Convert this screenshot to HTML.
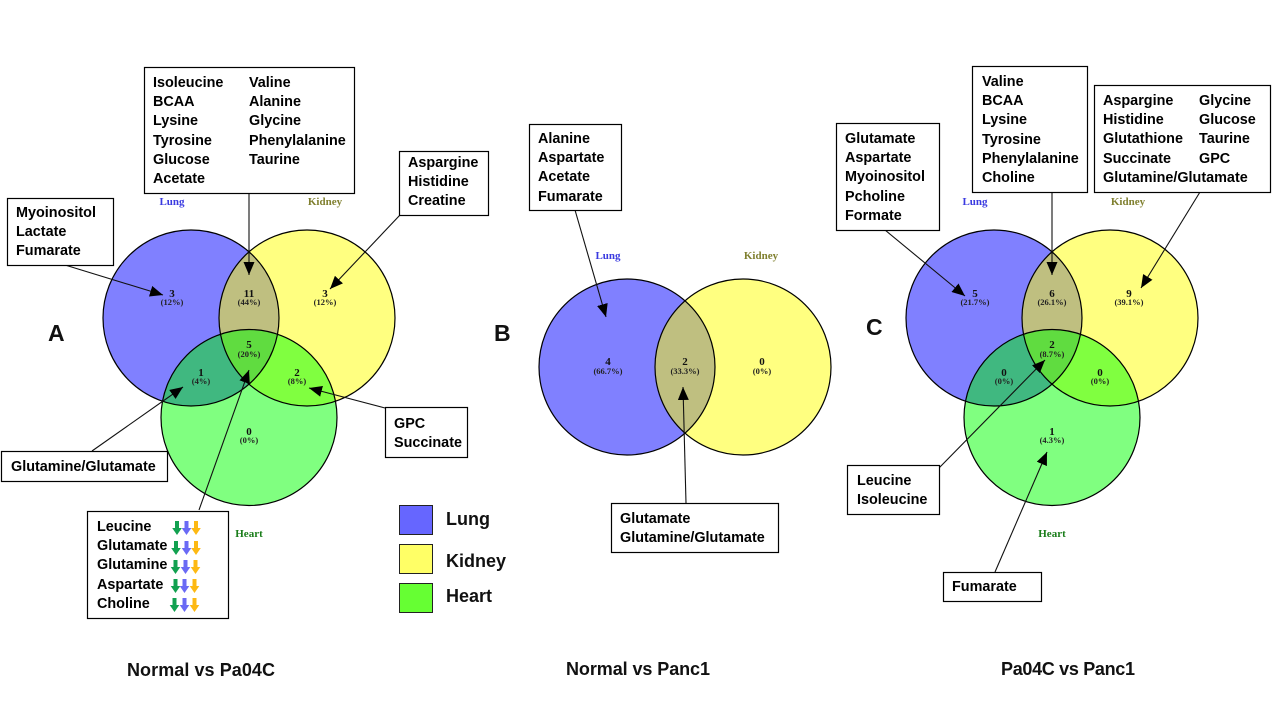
<!DOCTYPE html>
<html><head><meta charset="utf-8"><style>
html,body{margin:0;padding:0;background:#fff}
svg{display:block}
.b{font:bold 14.4px "Liberation Sans",sans-serif;fill:#000}
.n{font:bold 11px "Liberation Serif",serif;fill:#111;text-anchor:middle}
.p{font:bold 8.5px "Liberation Serif",serif;fill:#222;text-anchor:middle}
.t{font:bold 11px "Liberation Serif",serif;text-anchor:middle}
.l{font:bold 18px "Liberation Sans",sans-serif;fill:#111}
.c{font:bold 18px "Liberation Sans",sans-serif;fill:#111}
.h{font:bold 23px "Liberation Sans",sans-serif;fill:#111}
.box{fill:#fff;stroke:#000;stroke-width:1.2}
.ar{stroke:#111;stroke-width:1.1;fill:none;marker-end:url(#m)}
.o{fill:none;stroke:#000;stroke-width:1.2}
</style></head><body>
<svg width="1280" height="720" viewBox="0 0 1280 720" xmlns="http://www.w3.org/2000/svg">
<defs>
<marker id="m" markerUnits="userSpaceOnUse" markerWidth="14" markerHeight="11" refX="13" refY="5.500" orient="auto"><path d="M0 0L13 5.500L0 11Z" fill="#000"/></marker>
<clipPath id="a1"><circle cx="191" cy="318" r="88"/></clipPath>
<clipPath id="a2"><circle cx="307" cy="318" r="88"/></clipPath>
<clipPath id="a3"><circle cx="249" cy="417.5" r="88"/></clipPath>
<clipPath id="b1"><circle cx="627" cy="367" r="88"/></clipPath>
<clipPath id="c1"><circle cx="994" cy="318" r="88"/></clipPath>
<clipPath id="c2"><circle cx="1110" cy="318" r="88"/></clipPath>
<clipPath id="c3"><circle cx="1052" cy="417.5" r="88"/></clipPath>
<g id="dn"><path d="M-2 0H2V7H4.800L0 14L-4.800 7H-2Z"/></g>
</defs>

<!-- Venn A -->
<circle cx="191" cy="318" r="88" fill="#8080ff"/>
<circle cx="307" cy="318" r="88" fill="#ffff80"/>
<circle cx="249" cy="417.5" r="88" fill="#80ff80"/>
<circle cx="307" cy="318" r="88" fill="#bfbf80" clip-path="url(#a1)"/>
<circle cx="249" cy="417.5" r="88" fill="#40b880" clip-path="url(#a1)"/>
<circle cx="249" cy="417.5" r="88" fill="#80ff40" clip-path="url(#a2)"/>
<g clip-path="url(#a1)"><circle cx="307" cy="318" r="88" fill="#60dc40" clip-path="url(#a3)"/></g>
<circle class="o" cx="191" cy="318" r="88"/><circle class="o" cx="307" cy="318" r="88"/><circle class="o" cx="249" cy="417.5" r="88"/>

<!-- Venn B -->
<circle cx="627" cy="367" r="88" fill="#8080ff"/>
<circle cx="743" cy="367" r="88" fill="#ffff80"/>
<circle cx="743" cy="367" r="88" fill="#bfbf80" clip-path="url(#b1)"/>
<circle class="o" cx="627" cy="367" r="88"/><circle class="o" cx="743" cy="367" r="88"/>

<!-- Venn C -->
<circle cx="994" cy="318" r="88" fill="#8080ff"/>
<circle cx="1110" cy="318" r="88" fill="#ffff80"/>
<circle cx="1052" cy="417.5" r="88" fill="#80ff80"/>
<circle cx="1110" cy="318" r="88" fill="#bfbf80" clip-path="url(#c1)"/>
<circle cx="1052" cy="417.5" r="88" fill="#40b880" clip-path="url(#c1)"/>
<circle cx="1052" cy="417.5" r="88" fill="#80ff40" clip-path="url(#c2)"/>
<g clip-path="url(#c1)"><circle cx="1110" cy="318" r="88" fill="#60dc40" clip-path="url(#c3)"/></g>
<circle class="o" cx="994" cy="318" r="88"/><circle class="o" cx="1110" cy="318" r="88"/><circle class="o" cx="1052" cy="417.5" r="88"/>

<!-- set titles -->
<text class="t" x="172" y="205" fill="#3a3ae0">Lung</text><text class="t" x="325" y="205" fill="#808030">Kidney</text><text class="t" x="249" y="537" fill="#1a7d1a">Heart</text>
<text class="t" x="608" y="259" fill="#3a3ae0">Lung</text><text class="t" x="761" y="259" fill="#808030">Kidney</text>
<text class="t" x="975" y="205" fill="#3a3ae0">Lung</text><text class="t" x="1128" y="205" fill="#808030">Kidney</text><text class="t" x="1052" y="537" fill="#1a7d1a">Heart</text>

<!-- counts A -->
<text class="n" x="172" y="297">3</text><text class="p" x="172" y="305">(12%)</text>
<text class="n" x="249" y="297">11</text><text class="p" x="249" y="305">(44%)</text>
<text class="n" x="325" y="297">3</text><text class="p" x="325" y="305">(12%)</text>
<text class="n" x="249" y="348">5</text><text class="p" x="249" y="357">(20%)</text>
<text class="n" x="201" y="376">1</text><text class="p" x="201" y="384">(4%)</text>
<text class="n" x="297" y="376">2</text><text class="p" x="297" y="384">(8%)</text>
<text class="n" x="249" y="435">0</text><text class="p" x="249" y="443">(0%)</text>
<!-- counts B -->
<text class="n" x="608" y="365">4</text><text class="p" x="608" y="374">(66.7%)</text>
<text class="n" x="685" y="365">2</text><text class="p" x="685" y="374">(33.3%)</text>
<text class="n" x="762" y="365">0</text><text class="p" x="762" y="374">(0%)</text>
<!-- counts C -->
<text class="n" x="975" y="297">5</text><text class="p" x="975" y="305">(21.7%)</text>
<text class="n" x="1052" y="297">6</text><text class="p" x="1052" y="305">(26.1%)</text>
<text class="n" x="1129" y="297">9</text><text class="p" x="1129" y="305">(39.1%)</text>
<text class="n" x="1052" y="348">2</text><text class="p" x="1052" y="357">(8.7%)</text>
<text class="n" x="1004" y="376">0</text><text class="p" x="1004" y="384">(0%)</text>
<text class="n" x="1100" y="376">0</text><text class="p" x="1100" y="384">(0%)</text>
<text class="n" x="1052" y="435">1</text><text class="p" x="1052" y="443">(4.3%)</text>

<!-- arrows -->
<path class="ar" d="M65 265L163 295"/>
<path class="ar" d="M249 193V275"/>
<path class="ar" d="M400 215L330 289"/>
<path class="ar" d="M92 451L183 387"/>
<path class="ar" d="M385 408L309 388"/>
<path class="ar" d="M199 510L249 370"/>
<path class="ar" d="M575 210L606 317"/>
<path class="ar" d="M686 503L683 387"/>
<path class="ar" d="M885 230L965 296"/>
<path class="ar" d="M1052 191V275"/>
<path class="ar" d="M1200 192L1141 288"/>
<path class="ar" d="M939 468L1045 360"/>
<path class="ar" d="M995 572L1047 452"/>

<!-- boxes A -->
<rect class="box" x="144.500" y="67.500" width="210" height="126"/>
<g class="b"><text x="153" y="87">Isoleucine</text><text x="153" y="106">BCAA</text><text x="153" y="125">Lysine</text><text x="153" y="145">Tyrosine</text><text x="153" y="164">Glucose</text><text x="153" y="183">Acetate</text>
<text x="249" y="87">Valine</text><text x="249" y="106">Alanine</text><text x="249" y="125">Glycine</text><text x="249" y="145">Phenylalanine</text><text x="249" y="164">Taurine</text></g>
<rect class="box" x="7.500" y="198.500" width="106" height="67"/>
<g class="b"><text x="16" y="217">Myoinositol</text><text x="16" y="236">Lactate</text><text x="16" y="255">Fumarate</text></g>
<rect class="box" x="399.500" y="151.500" width="89" height="64"/>
<g class="b"><text x="408" y="167">Aspargine</text><text x="408" y="186">Histidine</text><text x="408" y="205">Creatine</text></g>
<rect class="box" x="1.500" y="451.500" width="166" height="30"/>
<text class="b" x="11" y="471">Glutamine/Glutamate</text>
<rect class="box" x="385.500" y="407.500" width="82" height="50"/>
<g class="b"><text x="394" y="428">GPC</text><text x="394" y="447">Succinate</text></g>
<rect class="box" x="87.500" y="511.500" width="141" height="107"/>
<g class="b"><text x="97" y="531">Leucine</text><text x="97" y="550">Glutamate</text><text x="97" y="569">Glutamine</text><text x="97" y="589">Aspartate</text><text x="97" y="608">Choline</text></g>
<g fill="#12a150"><use href="#dn" x="177" y="521"/><use href="#dn" x="176" y="541"/><use href="#dn" x="175.500" y="560"/><use href="#dn" x="175.500" y="579"/><use href="#dn" x="174.500" y="598"/></g>
<g fill="#6a6af5"><use href="#dn" x="186.500" y="521"/><use href="#dn" x="186.500" y="541"/><use href="#dn" x="185.500" y="560"/><use href="#dn" x="184.500" y="579"/><use href="#dn" x="184.500" y="598"/></g>
<g fill="#fdb913"><use href="#dn" x="196" y="521"/><use href="#dn" x="196" y="541"/><use href="#dn" x="195.500" y="560"/><use href="#dn" x="194.500" y="579"/><use href="#dn" x="194.500" y="598"/></g>

<!-- boxes B -->
<rect class="box" x="529.500" y="124.500" width="92" height="86"/>
<g class="b"><text x="538" y="143">Alanine</text><text x="538" y="162">Aspartate</text><text x="538" y="181">Acetate</text><text x="538" y="201">Fumarate</text></g>
<rect class="box" x="611.500" y="503.500" width="167" height="49"/>
<g class="b"><text x="620" y="523">Glutamate</text><text x="620" y="542">Glutamine/Glutamate</text></g>

<!-- boxes C -->
<rect class="box" x="836.500" y="123.500" width="103" height="107"/>
<g class="b"><text x="845" y="143">Glutamate</text><text x="845" y="162">Aspartate</text><text x="845" y="181">Myoinositol</text><text x="845" y="201">Pcholine</text><text x="845" y="220">Formate</text></g>
<rect class="box" x="972.500" y="66.500" width="115" height="126"/>
<g class="b"><text x="982" y="86">Valine</text><text x="982" y="105">BCAA</text><text x="982" y="124">Lysine</text><text x="982" y="144">Tyrosine</text><text x="982" y="163">Phenylalanine</text><text x="982" y="182">Choline</text></g>
<rect class="box" x="1094.500" y="85.500" width="176" height="107"/>
<g class="b"><text x="1103" y="105">Aspargine</text><text x="1103" y="124">Histidine</text><text x="1103" y="143">Glutathione</text><text x="1103" y="163">Succinate</text><text x="1103" y="182">Glutamine/Glutamate</text>
<text x="1199" y="105">Glycine</text><text x="1199" y="124">Glucose</text><text x="1199" y="143">Taurine</text><text x="1199" y="163">GPC</text></g>
<rect class="box" x="847.500" y="465.500" width="92" height="49"/>
<g class="b"><text x="857" y="485">Leucine</text><text x="857" y="504">Isoleucine</text></g>
<rect class="box" x="943.500" y="572.500" width="98" height="29"/>
<text class="b" x="952" y="591">Fumarate</text>

<!-- legend -->
<rect x="399.500" y="505.500" width="33" height="29" fill="#6666ff" stroke="#222"/>
<rect x="399.500" y="544.500" width="33" height="29" fill="#ffff66" stroke="#222"/>
<rect x="399.500" y="583.500" width="33" height="29" fill="#66ff33" stroke="#222"/>
<text class="l" x="446" y="525">Lung</text><text class="l" x="446" y="567">Kidney</text><text class="l" x="446" y="602">Heart</text>

<!-- headings -->
<text class="h" x="48" y="341">A</text><text class="h" x="494" y="341">B</text><text class="h" x="866" y="335">C</text>
<text class="c" x="127" y="676" textLength="148">Normal vs Pa04C</text>
<text class="c" x="566" y="675" textLength="144">Normal vs Panc1</text>
<text class="c" x="1001" y="675" textLength="134">Pa04C vs Panc1</text>
</svg>
</body></html>
